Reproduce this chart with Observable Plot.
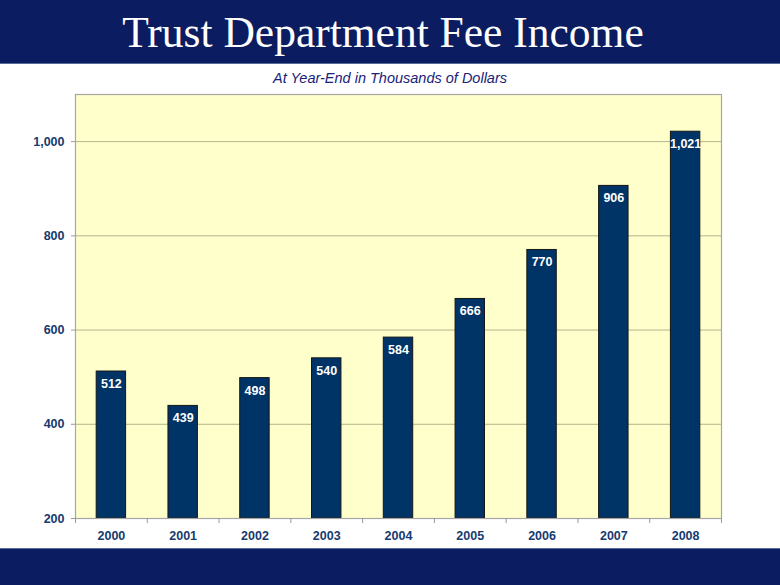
<!DOCTYPE html>
<html>
<head>
<meta charset="utf-8">
<script src="https://cdn.jsdelivr.net/npm/d3@7"></script>
<script src="https://cdn.jsdelivr.net/npm/@observablehq/plot@0.6"></script>
<style>
  html, body { margin: 0; padding: 0; background: #ffffff; }
  #page { position: relative; width: 780px; height: 585px; overflow: hidden; background: #ffffff; }
  #header { position: absolute; left: 0; top: 0; width: 780px; height: 63px; background: #0b1d60; border-bottom: 1px solid #5a6a9a; }
  #title { position: absolute; left: -7px; top: 0; width: 780px; text-align: center; color: #ffffff;
           font-family: "Times New Roman", "Liberation Serif", serif; font-size: 43.5px; line-height: 64px; }
  #subtitle { position: absolute; left: 0; top: 69px; width: 780px; text-align: center; color: #1a237a;
              font-family: Arial, "Liberation Sans", sans-serif; font-style: italic; font-size: 14.5px; line-height: 18px; }
  #chart { position: absolute; left: 0; top: 84px; }
  #footer { position: absolute; left: 0; top: 548px; width: 780px; height: 37px; background: #0b1d60; border-top: 1px solid #5a6a9a; }
  #chart svg { font-family: Arial, "Liberation Sans", sans-serif; overflow: visible; }
</style>
</head>
<body>
<div id="page">
  <div id="header"><div id="title">Trust Department Fee Income</div></div>
  <div id="subtitle">At Year-End in Thousands of Dollars</div>
  <div id="chart"></div>
  <div id="footer"></div>
</div>
<script>
const years = ["2000", "2001", "2002", "2003", "2004", "2005", "2006", "2007", "2008"];
const income = [512, 439, 498, 540, 584, 666, 770, 906, 1021];
const yTicks = [200, 400, 600, 800, 1000];
const gridValues = [400, 600, 800, 1000];

const data = years.map((y, i) => ({year: y, value: income[i]}));

const W = 780, H = 464, ML = 75, MR = 59, MT = 10, MB = 30;
const step = (W - ML - MR) / years.length;
const fmt = d3.format(",");
const navyText = "#173a6e";

const chart = Plot.plot({
  width: W,
  height: H,
  marginLeft: ML,
  marginRight: MR,
  marginTop: MT,
  marginBottom: MB,
  style: {background: "transparent", fontFamily: "Arial, 'Liberation Sans', sans-serif"},
  x: {domain: years, paddingInner: 0.59, paddingOuter: 0.295, round: false, axis: null},
  y: {domain: [200, 1100], axis: null},
  marks: [
    Plot.frame({fill: "#ffffcc", stroke: null}),
    Plot.ruleY(gridValues, {stroke: "#b4b48c", strokeWidth: 1}),
    Plot.barY(data, {x: "year", y1: 200, y2: "value", fill: "#003366", stroke: "#161616", strokeWidth: 1}),
    Plot.text(data, {x: "year", y: "value", text: d => fmt(d.value), dy: 12.5, fill: "#ffffff",
                     fontWeight: "bold", fontSize: 12.5}),
    Plot.frame({stroke: "#a6a6a6", strokeWidth: 1.2}),
    Plot.axisY({ticks: yTicks, tickFormat: fmt, tickSize: 4, tickPadding: 7, stroke: "#999999",
                fill: navyText, fontWeight: "bold", fontSize: 12.5, label: null}),
    Plot.axisX({ticks: years, tickSize: 0, tickPadding: 13, fill: navyText, fontWeight: "bold",
                fontSize: 12.5, label: null}),
    Plot.axisX({ticks: years, tickSize: 5, tickFormat: null, text: null, dx: step / 2, stroke: "#999999", label: null}),
    Plot.axisX({ticks: [years[0]], tickSize: 5, tickFormat: null, text: null, dx: -step / 2, stroke: "#999999", label: null})
  ]
});
document.getElementById("chart").appendChild(chart);
</script>
</body>
</html>
